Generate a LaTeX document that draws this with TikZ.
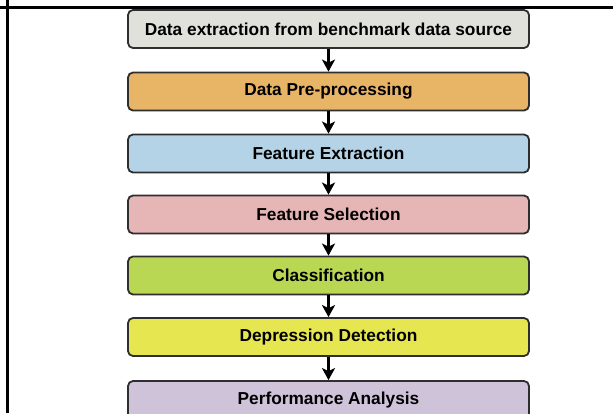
\documentclass[tikz,border=0pt]{standalone}
\usepackage{fontspec}
\setmainfont{Liberation Sans}
\usepackage{tikz}
\usetikzlibrary{arrows.meta,positioning}
\definecolor{srcgray}{HTML}{E1E1DB}
\definecolor{preorange}{HTML}{E8B466}
\definecolor{featblue}{HTML}{B5D3E7}
\definecolor{selpink}{HTML}{E6B5B5}
\definecolor{clsgreen}{HTML}{B9D752}
\definecolor{detyellow}{HTML}{E6E651}
\definecolor{perflilac}{HTML}{CFC3D9}
\definecolor{boxline}{HTML}{2E2E2E}

\begin{document}
\begin{tikzpicture}[
    x=1pt, y=-1pt,
    stage/.style={draw=boxline, line width=1.8pt, rounded corners=5pt, minimum width=401pt, minimum height=38pt, inner sep=0pt, font=\fontsize{17.3}{20}\selectfont\bfseries},
    flow/.style={-{Stealth[length=12pt, width=13pt, inset=3pt]}, line width=2.6pt, black},
    frame/.style={line width=3pt, black}
]
\useasboundingbox (0,0) rectangle (613,413);

% Rahmen der Tabelle
\coordinate (topL) at (0,7.5);
\coordinate (topR) at (613,7.5);
\coordinate (sideT) at (7,0);
\coordinate (sideB) at (7,413);
\draw[frame] (topL) -- (topR);
\draw[frame] (sideT) -- (sideB);

% Stufen
\node[stage, fill=srcgray] (src) at (328.5, 29) {Data extraction from benchmark data source};
\node[stage, fill=preorange] (pre) at (328.5, 91.5) {Data Pre-processing};
\node[stage, fill=featblue] (fext) at (328.5, 153.5) {Feature Extraction};
\node[stage, fill=selpink] (fsel) at (328.5, 214.5) {Feature Selection};
\node[stage, fill=clsgreen] (cls) at (328.5, 275.5) {Classification};
\node[stage, fill=detyellow] (det) at (328.5, 337) {Depression Detection};
\node[stage, fill=perflilac] (perf) at (328.5, 400) {Performance Analysis};

% Pfeile
\draw[flow] (src) -- (pre);
\draw[flow] (pre) -- (fext);
\draw[flow] (fext) -- (fsel);
\draw[flow] (fsel) -- (cls);
\draw[flow] (cls) -- (det);
\draw[flow] (det) -- (perf);

\end{tikzpicture}
\end{document}
